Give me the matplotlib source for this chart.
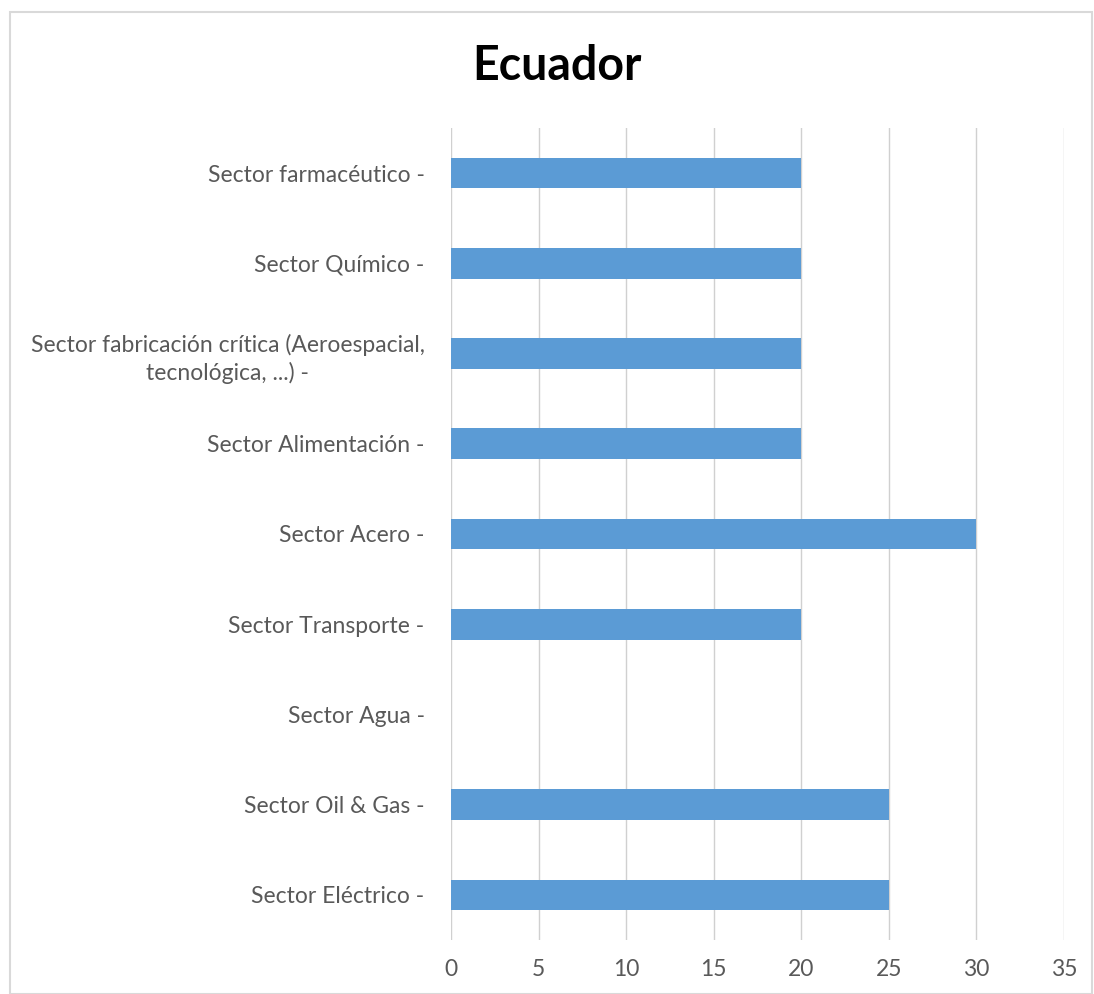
import matplotlib
matplotlib.use("Agg")
import matplotlib.pyplot as plt
from matplotlib.patches import Rectangle

categories = [
    "Sector Eléctrico -",
    "Sector Oil & Gas -",
    "Sector Agua -",
    "Sector Transporte -",
    "Sector Acero -",
    "Sector Alimentación -",
    "Sector fabricación crítica (Aeroespacial,\ntecnológica, ...) -",
    "Sector Químico -",
    "Sector farmacéutico -",
]
values = [25, 25, 0, 20, 30, 20, 20, 20, 20]
xticks = [0, 5, 10, 15, 20, 25, 30, 35]

plt.rcParams['font.family'] = ['Lato', 'DejaVu Sans']

fig = plt.figure(figsize=(10.94, 9.94), dpi=100)
ax = fig.add_axes([451/1094, 1-940/994, (1064-451)/1094, (940-128)/994])

ypos = list(range(len(categories)))
ax.barh(ypos, values, height=0.34, color="#5b9bd5", zorder=3)
ax.set_ylim(-0.5, 8.5)
ax.set_xlim(0, 35)
ax.set_xticks(xticks)
ax.set_xticklabels([str(t) for t in xticks])
ax.set_yticks(ypos)
ax.set_yticklabels(categories, ha='right', multialignment='center', linespacing=1.35)
ax.tick_params(axis='y', length=0, pad=19, labelsize=16.5, labelcolor="#595959")
ax.tick_params(axis='x', length=0, pad=14, labelsize=16.5, labelcolor="#595959")
for s in ax.spines.values():
    s.set_visible(False)
ax.grid(axis='x', color="#d0d0d0", linewidth=1, zorder=0)
ax.grid(axis='y', visible=False)
ax.set_axisbelow(True)

fig.text(557/1094, 1-66/994, "Ecuador", ha='center', va='center',
         fontsize=33.5, fontweight='bold', color="black")

fig.patches.append(Rectangle((10/1094, 0), (1092-10)/1094, 1-12/994,
                             transform=fig.transFigure, fill=False,
                             edgecolor="#d9d9d9", linewidth=1.5))

fig.savefig("out.png", dpi=100)
